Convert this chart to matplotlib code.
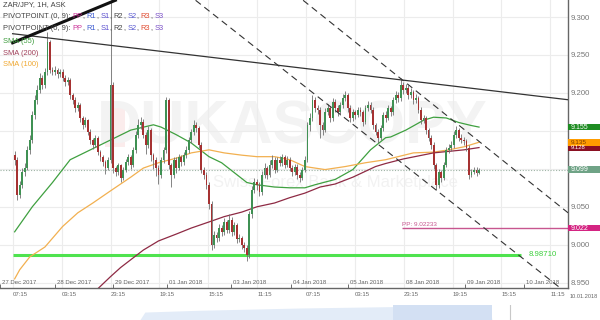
import matplotlib
matplotlib.use("Agg")
import matplotlib.pyplot as plt
import matplotlib.transforms as mtransforms
from matplotlib.patches import Rectangle
import numpy as np

plt.rcParams['font.family'] = ['Liberation Sans', 'DejaVu Sans']

# ZAR/JPY hourly candles
first_open = 9.118
closes = [
    9.112, 9.066, 9.079, 9.096, 9.101, 9.125, 9.138, 9.171, 9.191, 9.204,
    9.220, 9.211, 9.228, 9.267, 9.230, 9.228, 9.230, 9.225, 9.228, 9.220,
    9.214, 9.217, 9.197, 9.191, 9.180, 9.184, 9.167, 9.158, 9.164, 9.149,
    9.138, 9.132, 9.141, 9.122, 9.115, 9.109, 9.101, 9.112, 9.211, 9.101,
    9.096, 9.105, 9.088, 9.099, 9.109, 9.115, 9.105, 9.125, 9.145, 9.158,
    9.162, 9.145, 9.132, 9.151, 9.118, 9.112, 9.101, 9.092, 9.112, 9.125,
    9.191, 9.105, 9.092, 9.112, 9.101, 9.115, 9.109, 9.118, 9.125, 9.138,
    9.149, 9.158, 9.154, 9.132, 9.099, 9.092, 9.079, 9.053, 9.000, 9.013,
    9.009, 9.022, 9.017, 9.030, 9.020, 9.033, 9.017, 9.026, 9.007, 9.009,
    9.000, 8.996, 8.986, 9.040, 9.072, 9.083, 9.079, 9.070, 9.092, 9.101,
    9.092, 9.105, 9.112, 9.099, 9.112, 9.108, 9.115, 9.105, 9.112, 9.101,
    9.096, 9.103, 9.092, 9.088, 9.099, 9.112, 9.158, 9.167, 9.191, 9.180,
    9.178, 9.158, 9.151, 9.175, 9.180, 9.167, 9.188, 9.180, 9.175, 9.184,
    9.193, 9.197, 9.180, 9.167, 9.175, 9.171, 9.178, 9.175, 9.162, 9.180,
    9.184, 9.178, 9.158, 9.149, 9.141, 9.154, 9.171, 9.167, 9.180, 9.175,
    9.191, 9.197, 9.193, 9.211, 9.204, 9.207, 9.197, 9.201, 9.191, 9.193,
    9.178, 9.164, 9.167, 9.151, 9.141, 9.132, 9.105, 9.079, 9.096, 9.088,
    9.105, 9.125, 9.128, 9.132, 9.145, 9.151, 9.141, 9.138, 9.136, 9.128,
    9.092, 9.096, 9.099, 9.095, 9.099]
highs = [
    9.124, 9.116, 9.084, 9.101, 9.108, 9.130, 9.145, 9.176, 9.197, 9.210,
    9.226, 9.224, 9.233, 9.280, 9.270, 9.234, 9.235, 9.233, 9.232, 9.231,
    9.223, 9.221, 9.220, 9.200, 9.194, 9.188, 9.187, 9.170, 9.168, 9.166,
    9.152, 9.141, 9.145, 9.143, 9.125, 9.118, 9.112, 9.115, 9.322, 9.214,
    9.104, 9.108, 9.107, 9.103, 9.113, 9.120, 9.118, 9.129, 9.150, 9.165,
    9.168, 9.165, 9.149, 9.156, 9.154, 9.121, 9.115, 9.105, 9.116, 9.129,
    9.195, 9.193, 9.108, 9.116, 9.115, 9.119, 9.118, 9.122, 9.130, 9.142,
    9.153, 9.164, 9.162, 9.157, 9.135, 9.103, 9.096, 9.082, 9.057, 9.018,
    9.017, 9.027, 9.026, 9.035, 9.033, 9.040, 9.036, 9.030, 9.029, 9.014,
    9.012, 9.004, 8.999, 9.044, 9.077, 9.088, 9.087, 9.083, 9.097, 9.108,
    9.104, 9.112, 9.118, 9.115, 9.116, 9.117, 9.119, 9.118, 9.117, 9.115,
    9.105, 9.107, 9.106, 9.096, 9.103, 9.117, 9.162, 9.173, 9.197, 9.195,
    9.184, 9.181, 9.162, 9.180, 9.186, 9.183, 9.193, 9.192, 9.184, 9.188,
    9.198, 9.203, 9.200, 9.184, 9.179, 9.178, 9.182, 9.181, 9.178, 9.184,
    9.190, 9.188, 9.181, 9.161, 9.152, 9.158, 9.175, 9.176, 9.184, 9.183,
    9.195, 9.202, 9.201, 9.219, 9.214, 9.212, 9.210, 9.206, 9.204, 9.198,
    9.196, 9.181, 9.171, 9.170, 9.154, 9.144, 9.135, 9.108, 9.100, 9.099,
    9.109, 9.129, 9.133, 9.137, 9.150, 9.156, 9.154, 9.146, 9.142, 9.139,
    9.131, 9.100, 9.102, 9.102, 9.101]
lows = [
    9.105, 9.059, 9.062, 9.075, 9.090, 9.098, 9.120, 9.134, 9.166, 9.186,
    9.200, 9.205, 9.207, 9.224, 9.226, 9.223, 9.224, 9.220, 9.221, 9.216,
    9.209, 9.210, 9.192, 9.186, 9.175, 9.176, 9.162, 9.152, 9.155, 9.144,
    9.133, 9.126, 9.129, 9.118, 9.110, 9.104, 9.093, 9.098, 9.108, 9.095,
    9.090, 9.092, 9.082, 9.085, 9.096, 9.105, 9.100, 9.102, 9.121, 9.141,
    9.153, 9.140, 9.120, 9.128, 9.110, 9.100, 9.090, 9.080, 9.088, 9.108,
    9.121, 9.100, 9.076, 9.088, 9.095, 9.098, 9.104, 9.105, 9.114, 9.121,
    9.134, 9.145, 9.149, 9.127, 9.094, 9.087, 9.073, 9.047, 8.993, 8.996,
    9.003, 9.005, 9.012, 9.013, 9.015, 9.016, 9.012, 9.013, 9.002, 9.003,
    8.995, 8.991, 8.978, 8.982, 9.035, 9.068, 9.072, 9.064, 9.066, 9.088,
    9.087, 9.089, 9.101, 9.094, 9.096, 9.104, 9.104, 9.101, 9.102, 9.097,
    9.091, 9.092, 9.087, 9.083, 9.085, 9.096, 9.109, 9.150, 9.163, 9.175,
    9.172, 9.140, 9.145, 9.148, 9.171, 9.162, 9.163, 9.175, 9.170, 9.171,
    9.180, 9.189, 9.175, 9.162, 9.163, 9.166, 9.168, 9.170, 9.157, 9.159,
    9.176, 9.173, 9.153, 9.144, 9.134, 9.138, 9.150, 9.162, 9.164, 9.170,
    9.171, 9.187, 9.188, 9.189, 9.199, 9.200, 9.192, 9.193, 9.186, 9.187,
    9.173, 9.159, 9.160, 9.146, 9.136, 9.126, 9.100, 9.072, 9.075, 9.082,
    9.085, 9.102, 9.121, 9.124, 9.128, 9.141, 9.137, 9.134, 9.131, 9.124,
    9.087, 9.089, 9.093, 9.091, 9.093]

# moving averages (sampled along the curves)
sma55_bar = [0, 7, 15, 22, 30, 38, 46, 55, 58, 64, 70, 77, 82, 87, 92, 96,
             103, 109, 115, 119, 127, 134, 141, 147, 149, 155, 162, 166,
             171, 176, 181, 184]
sma55 = [9.017, 9.050, 9.082, 9.112, 9.125, 9.138, 9.151, 9.158, 9.155,
         9.145, 9.134, 9.116, 9.108, 9.095, 9.082, 9.079, 9.076, 9.075,
         9.075, 9.079, 9.086, 9.099, 9.125, 9.141, 9.142, 9.151, 9.164,
         9.168, 9.167, 9.161, 9.157, 9.155]
sma100_bar = [0, 2, 6, 12, 19, 25, 31, 38, 42, 46, 51, 57, 64, 70, 77, 83,
              90, 96, 103, 109, 115, 123, 131, 139, 147, 158, 166, 172,
              178, 184]
sma100 = [8.955, 8.967, 8.984, 8.997, 9.024, 9.042, 9.055, 9.071, 9.080,
          9.089, 9.101, 9.108, 9.114, 9.121, 9.125, 9.121, 9.118, 9.116,
          9.116, 9.112, 9.103, 9.099, 9.103, 9.108, 9.112, 9.121, 9.122,
          9.125, 9.129, 9.135]
sma200_bar = [32, 38, 42, 51, 57, 64, 70, 77, 83, 90, 96, 103, 109, 115,
              121, 127, 134, 143, 147, 154, 166, 178, 184]
sma200 = [8.939, 8.958, 8.970, 8.993, 9.005, 9.014, 9.022, 9.030, 9.037,
          9.043, 9.050, 9.055, 9.062, 9.068, 9.076, 9.080, 9.089, 9.103,
          9.107, 9.113, 9.121, 9.125, 9.128]

# drawn trend lines (bar, price end points)
trend_thin = ([-0.8, 219.3], [9.278, 9.191])
trend_thick = ([-0.8, 39.9], [9.266, 9.322])
channel_a = ([71.7, 216.2], [9.322, 8.943])
channel_b = ([114.3, 219.3], [9.322, 9.042])

pivot_pp = 9.02233
pivot_pp_start = 153.4
support_level = 8.98710
support_end = 200.7
last_price = 9.099

price_ticks = [8.95, 9.00, 9.05, 9.10, 9.15, 9.20, 9.25, 9.30]
time_ticks = [-0.77, 18.6, 38.0, 57.3, 76.7, 96.1, 115.4, 134.8, 154.2,
              173.5, 192.9, 212.3]
time_labels = ["07:15", "03:15", "23:15", "19:15", "15:15", "11:15",
               "07:15", "03:15", "23:15", "19:15", "15:15", "11:15"]
date_ticks = [-5.8, 15.9, 39.1, 60.4, 85.6, 109.6, 132.1, 154.2, 178.6, 201.8]
date_labels = ["27 Dec 2017", "28 Dec 2017", "29 Dec 2017", "01 Jan 2018",
               "03 Jan 2018", "04 Jan 2018", "05 Jan 2018", "08 Jan 2018",
               "09 Jan 2018", "10 Jan 2018"]

# right-hand price tags
tag_values = [9.155, 9.128, 9.135, 9.099, 9.022]
tag_colors = ["#1e8c22", "#8a1022", "#ff9c00", "#6fa386", "#d42482"]
tag_text = ["white", "white", "#7a3c00", "white", "white"]
tag_size = [5.0, 4.2, 4.6, 5.0, 5.0]

# navigator strip
nav_pos = [24.6, 25.5, 35.2, 52.8, 70.4, 86.3, 86.6]
nav_level = [0.0, 0.53, 0.65, 0.8, 0.9, 0.93, 0.0]

fig = plt.figure(figsize=(6, 3.2), dpi=100)
ax = fig.add_axes([0, 32 / 320, 568 / 600, 288 / 320])
ax.set_xlim(-0.77, 219.25)
ax.set_ylim(8.943, 9.3224)

# watermark
ax.add_patch(Rectangle((0.185, 0.49), 0.035, 0.15, transform=ax.transAxes,
                       color="#fbecec", zorder=0.2, lw=0))
ax.text(0.514, 0.556, "DUKASCOPY", transform=ax.transAxes, fontsize=44,
        fontweight="bold", color="#f3f3f3", ha="center", va="center", zorder=0.3)
ax.text(0.59, 0.365, "Swiss Forex Bank & Marketplace", transform=ax.transAxes,
        fontsize=12, color="#f2f2f2", ha="center", va="center", zorder=0.3)

# grid
for p in price_ticks:
    ax.axhline(p, color="#ececec", lw=0.8, zorder=0.4)
for t in time_ticks:
    ax.axvline(t, color="#ececec", lw=0.8, zorder=0.4)

# header texts (pieces placed one after another)
renderer = fig.canvas.get_renderer()


def text_row(y_px, parts, size=5.4):
    xpos = 3
    for s, col, gap in parts:
        xpos += gap
        t = fig.text(xpos / 600, 1 - y_px / 320, s, fontsize=size, color=col,
                     va="center", ha="left", zorder=1)
        xpos = t.get_window_extent(renderer).x1


fig.text(3 / 600, 1 - 5 / 320, "ZAR/JPY, 1H, ASK", fontsize=5.4, color="#444",
         va="center", ha="left")
pieces = [("PP", "#cc3399"), ("R1", "#3d5bd0"), ("S1", "#5a4fcf"), ("R2", "#444444"),
          ("S2", "#5a5ad0"), ("R3", "#e04a2f"), ("S3", "#7a4fc8")]
row = [("PIVOTPOINT (0, 9):", "#444", 0)]
for k, (s, col) in enumerate(pieces):
    row.append((s, col, 2))
    if k < len(pieces) - 1:
        row.append((",", "#444", 0))
text_row(16.5, row)
text_row(28.5, row)
sma_labels = [("SMA (55)", "#3c9c3c", 41.5), ("SMA (200)", "#a0405a", 53.5),
              ("SMA (100)", "#f0a830", 65)]
for s, col, yy in sma_labels:
    fig.text(3 / 600, 1 - yy / 320, s, fontsize=5.4, color=col, va="center", zorder=1)

# trend lines
ax.plot(*trend_thin, color="#333", lw=0.9, zorder=5)
ax.plot(*trend_thick, color="#111", lw=2.2, zorder=5)
ax.plot(*channel_a, color="#333", lw=0.8, ls=(0, (6, 4)), zorder=5)
ax.plot(*channel_b, color="#333", lw=0.8, ls=(0, (6, 4)), zorder=5)

# levels
ax.axhline(last_price, color="#9fb5a6", lw=0.8, ls=(0, (1, 1.5)), zorder=1)
ax.hlines(pivot_pp, pivot_pp_start, 219.3, color="#c7568f", lw=1, zorder=2)
ax.text(pivot_pp_start + 0.2, pivot_pp + 0.0005, "PP: 9.02233", fontsize=4.6,
        color="#c7568f", va="bottom", ha="left")
ax.hlines(support_level, -0.8, support_end, color="#4fe34f", lw=2.2, zorder=2)
ax.text(support_end + 3, support_level, "8.98710", fontsize=5.6,
        color="#3ccf3c", va="center", ha="left")

# moving averages
ax.plot(sma55_bar, sma55, color="#3fa040", lw=0.9, zorder=2)
ax.plot(sma100_bar, sma100, color="#f2b050", lw=0.9, zorder=2)
ax.plot(sma200_bar, sma200, color="#8e2a44", lw=0.9, zorder=2)

# candles
c = np.array(closes)
o = np.array([first_open] + closes[:-1])
h = np.array(highs)
l = np.array(lows)
x = np.arange(len(c))
up = c >= o
ax.vlines(x, l, h, color="#707070", lw=0.6, zorder=3)
body = np.maximum(np.abs(c - o), 0.0008)
ax.bar(x[up], body[up], bottom=o[up], width=0.72, color="#3f9153", lw=0, zorder=4)
ax.bar(x[~up], body[~up], bottom=c[~up], width=0.72, color="#a63232", lw=0, zorder=4)

# axes styling
for side in ["top", "left"]:
    ax.spines[side].set_visible(False)
for side in ["bottom", "right"]:
    ax.spines[side].set_color("#666")
    ax.spines[side].set_linewidth(1)
ax.yaxis.tick_right()
ax.set_yticks(price_ticks)
# 9.100 and 9.150 sit under the price tags
ax.set_yticklabels(["" if p in (9.10, 9.15) else "%.3f" % p for p in price_ticks])
ax.tick_params(axis="y", length=0, pad=2, labelsize=5.6, labelcolor="#777")
ax.set_xticks(time_ticks)
ax.set_xticklabels(time_labels)
for lab in ax.get_xticklabels():
    lab.set_ha("left")
ax.set_xticks(date_ticks, minor=True)
ax.tick_params(axis="x", which="major", length=0, pad=3, labelsize=4.3,
               labelcolor="#666")
ax.tick_params(axis="x", which="minor", direction="in", length=3, color="#555")
date_tr = mtransforms.blended_transform_factory(ax.transData, ax.transAxes)
for t, s in zip(date_ticks, date_labels):
    ax.text(t + 0.8, 0.018, s, transform=date_tr, fontsize=4.3, color="#666",
            ha="left", va="center")
fig.text(570 / 600, 1 - 296 / 320, "10.01.2018", fontsize=4.1, color="#666",
         va="center", ha="left")

# price tags on the right
tag_tr = mtransforms.blended_transform_factory(ax.transAxes, ax.transData)
for v, bg, fg, fs in zip(tag_values, tag_colors, tag_text, tag_size):
    ax.add_patch(Rectangle((1.0, v - 0.0043), 0.06, 0.0086, transform=tag_tr,
                           color=bg, lw=0, clip_on=False, zorder=6))
    ax.text(1.004, v, "%.3f" % v, transform=tag_tr, fontsize=fs, color=fg,
            va="center", ha="left", zorder=7, clip_on=False)

# navigator
nav = fig.add_axes([0, 0, 568 / 600, 15 / 320])
nav.set_xlim(0, 100)
nav.set_ylim(0, 1)
nav.fill_between(nav_pos, nav_level, color="#e3ecf8", lw=0)
nav.axvspan(69.2, 86.6, color="#d3e0f3", lw=0)
nav.axvline(89.8, color="#c8c8c8", lw=0.8)
nav.axis("off")

fig.savefig("out.png", dpi=100)
